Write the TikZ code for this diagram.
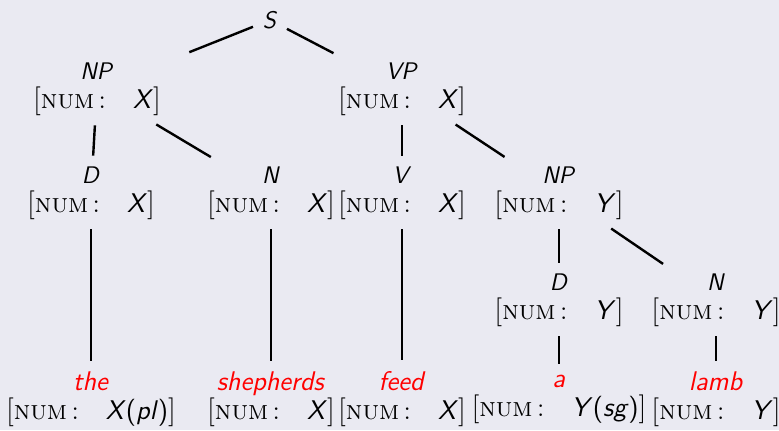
\documentclass[tikz,border=0pt]{standalone}
\usepackage{tikz}
\usetikzlibrary{positioning}
\definecolor{bgcol}{HTML}{EAEAF2}
\newcommand{\cat}[1]{{\fontsize{12}{14}\selectfont\textsf{\textit{#1}}}}
\newcommand{\word}[1]{\textcolor{red}{\textsf{\textit{#1}}}}
\newcommand{\feat}[1]{$\bigl[\mbox{\textsc{num}\,:\quad\sffamily #1}\bigr]$}

\begin{document}
\begin{tikzpicture}[
    x=0.5pt, y=-0.5pt,
    every node/.style={font=\fontsize{13.5}{14.5}\selectfont},
    cat/.style={inner sep=4pt, outer sep=0pt, align=center},
    leaf/.style={cat},
    branch/.style={line width=1.2pt, shorten >=1.5pt, shorten <=1pt},
]
\fill[bgcol] (0,0) rectangle (779,430);
\useasboundingbox (0,0) rectangle (779,430);

% Level 0 and 1: S, NP, VP
\node[cat] (s)   at (270,20)  {\cat{S}};
\node[cat] (np)  at (97,89)   {\cat{NP}\\\feat{\textit{X}}};
\node[cat] (vp)  at (402,89)  {\cat{VP}\\\feat{\textit{X}}};

% Level 2: D, N, V, NP
\node[cat] (d)   at (91,193)  {\cat{D}\\\feat{\textit{X}}};
\node[cat] (n)   at (271,193) {\cat{N}\\\feat{\textit{X}}};
\node[cat] (v)   at (402,193) {\cat{V}\\\feat{\textit{X}}};
\node[cat] (npo) at (559,193) {\cat{NP}\\\feat{\textit{Y}}};

% Level 3: D, N under the object NP
\node[cat] (do)  at (559,300) {\cat{D}\\\feat{\textit{Y}}};
\node[cat] (no)  at (716,300) {\cat{N}\\\feat{\textit{Y}}};

% Leaves
\node[leaf] (the)   at (91,399)  {\word{the}\\\feat{\textit{X}(\textit{pl})}};
\node[leaf] (shep)  at (271,399) {\word{shepherds}\\\feat{\textit{X}}};
\node[leaf] (feed)  at (402,399) {\word{feed}\\\feat{\textit{X}}};
\node[leaf] (a)     at (559,399) {\word{a}\\\feat{\textit{Y}(\textit{sg})}};
\node[leaf] (lamb)  at (716,399) {\word{lamb}\\\feat{\textit{Y}}};

% Branches
\draw[branch, shorten >=11pt] (s) -- (np);
\draw[branch] (s)   -- (vp);
\draw[branch] (np)  -- (d);
\draw[branch] (np)  -- (n);
\draw[branch] (vp)  -- (v);
\draw[branch] (vp)  -- (npo);
\draw[branch] (npo) -- (do);
\draw[branch] (npo) -- (no);
\draw[branch] (d)   -- (the);
\draw[branch] (n)   -- (shep);
\draw[branch] (v)   -- (feed);
\draw[branch] (do)  -- (a);
\draw[branch] (no)  -- (lamb);

\end{tikzpicture}
\end{document}
